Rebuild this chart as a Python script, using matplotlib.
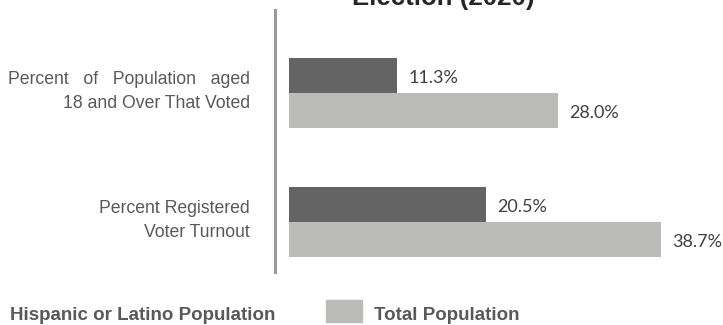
import matplotlib
matplotlib.use('Agg')
import matplotlib.pyplot as plt
from matplotlib.patches import Rectangle
import numpy as np

# measures shown on the y axis (top to bottom); first line is spread out
categories = ['Percent   of   Population   aged\n18 and Over That Voted',
              'Percent Registered\nVoter Turnout']
hispanic = [11.3, 20.5]
total = [28.0, 38.7]

DARK = '#636463'
LIGHT = '#bbbbba'
LABEL_GREY = '#595959'

plt.rcParams['font.family'] = ['Liberation Sans', 'DejaVu Sans']

fig = plt.figure(figsize=(7.23, 3.25), dpi=100)
ax = fig.add_axes([0.380, 0.163, 0.620, 0.806])

y = np.arange(len(categories))
bar_h = 0.275
b_his = ax.barh(y - bar_h / 2, hispanic, height=bar_h, color=DARK)
b_tot = ax.barh(y + bar_h / 2, total, height=bar_h, color=LIGHT)

# value labels to the right of each bar
for bars, vals in ((b_his, hispanic), (b_tot, total)):
    for rect, v in zip(bars, vals):
        ax.text(v + 1.2, rect.get_y() + rect.get_height() / 2 + 0.02,
                '%.1f%%' % v, va='center', ha='left', fontsize=13,
                color='#404040', family=['Lato', 'DejaVu Sans'])

ax.set_xlim(-1.46, 45.2)
ax.set_ylim(1.388, -0.643)

for side in ('top', 'right', 'bottom'):
    ax.spines[side].set_visible(False)
ax.spines['left'].set_color('#9a9a9a')
ax.spines['left'].set_linewidth(2.2)
ax.set_xticks([])
ax.set_yticks([])

# category labels, right aligned left of the axis line
for yi, cat in zip(y, categories):
    ax.text(-0.056, yi - 0.01, cat, transform=ax.get_yaxis_transform(),
            ha='right', va='center', fontsize=12.7, color=LABEL_GREY,
            linespacing=1.5)

# title (second line only fits in the frame)
fig.text(352 / 723, 1 - 5 / 325, 'Election (2020)', ha='left', va='baseline',
         fontsize=18.6, fontweight='bold', color='#262626')

# legend along the bottom
fig.text(10 / 723, 1 - 320 / 325, 'Hispanic or Latino Population',
         ha='left', va='baseline', fontsize=13.5, fontweight='bold',
         color=LABEL_GREY)
fig.patches.append(Rectangle((326 / 723, 1 - 322 / 325), 36 / 723, 22 / 325,
                             transform=fig.transFigure, color=LIGHT,
                             figure=fig))
fig.text(374 / 723, 1 - 320 / 325, 'Total Population',
         ha='left', va='baseline', fontsize=13.5, fontweight='bold',
         color=LABEL_GREY)

fig.savefig('out.png', dpi=100)
